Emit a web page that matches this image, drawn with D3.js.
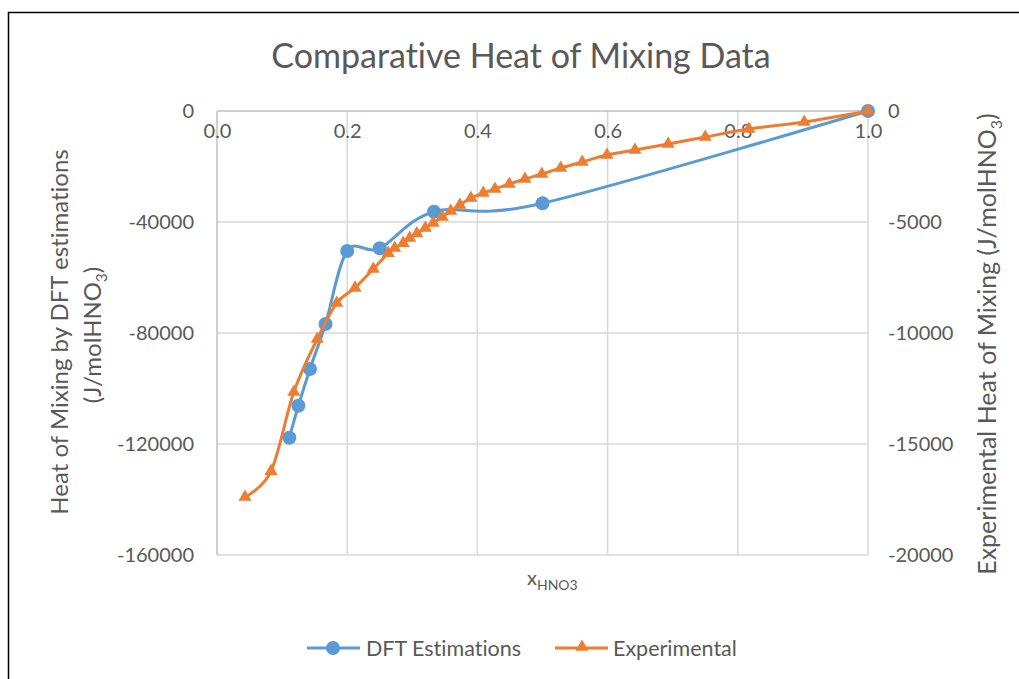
<!DOCTYPE html>
<html>
<head>
<meta charset="utf-8">
<script src="https://cdn.jsdelivr.net/npm/d3@7"></script>
<style>
  html, body { margin: 0; padding: 0; background: #fff; }
  svg { display: block; }
  text { font-family: Lato, "Open Sans", sans-serif; fill: #595959; font-variant-ligatures: none; font-feature-settings: "liga" 0; }
</style>
</head>
<body>
<svg id="chart" width="1019" height="679"></svg>
<script>
// ---- Data ----
const dftX = [1/9, 1/8, 1/7, 1/6, 1/5, 1/4, 1/3, 1/2, 1];
const dftY = [-117730, -106200, -92970, -76760, -50450, -49480, -36290, -33260, 0];

const expX = [0.043, 0.083, 0.118, 0.154, 0.184, 0.212, 0.240, 0.263, 0.273, 0.286, 0.296, 0.307,
              0.320, 0.332, 0.346, 0.359, 0.373, 0.390, 0.409, 0.427, 0.449, 0.473, 0.499, 0.528,
              0.561, 0.599, 0.642, 0.693, 0.750, 0.817, 0.902, 1.0];
const expY = [-17390, -16220, -12660, -10270, -8650, -7970, -7120, -6400, -6170, -5950, -5720, -5520,
              -5270, -5045, -4775, -4505, -4234, -3920, -3694, -3514, -3288, -3063, -2838, -2568,
              -2297, -1982, -1757, -1486, -1171, -811, -495, 0];

const xTicks = [0, 0.2, 0.4, 0.6, 0.8, 1.0];
const leftTicks = [0, -40000, -80000, -120000, -160000];
const rightTicks = [0, -5000, -10000, -15000, -20000];

const title = "Comparative Heat of Mixing Data";
const seriesNames = ["DFT Estimations", "Experimental"];
const colors = ["#5b9bd5", "#ed7d31"];

// ---- Layout ----
const svg = d3.select("#chart");
const plot = { left: 217, right: 868, top: 111, bottom: 555 };

const x = d3.scaleLinear().domain([0, 1]).range([plot.left, plot.right]);
const yL = d3.scaleLinear().domain([-160000, 0]).range([plot.bottom, plot.top]);
const yR = d3.scaleLinear().domain([-20000, 0]).range([plot.bottom, plot.top]);
const intFmt = d => String(d);

// frame
svg.append("rect").attr("x", 8.5).attr("y", 12.5).attr("width", 1040).attr("height", 700)
  .attr("fill", "none").attr("stroke", "#000").attr("stroke-width", 1.5);

// title
svg.append("text").attr("x", 521).attr("y", 68).attr("text-anchor", "middle")
  .style("font-size", "34px").text(title);

// gridlines
const grid = svg.append("g");
grid.selectAll(".hg").data(leftTicks.filter(d => d !== 0)).join("line")
  .attr("x1", plot.left).attr("x2", plot.right)
  .attr("y1", d => yL(d)).attr("y2", d => yL(d))
  .attr("stroke", "#d9d9d9").attr("stroke-width", 1.5);
grid.selectAll(".vg").data(xTicks.filter(d => d !== 0)).join("line")
  .attr("x1", d => x(d)).attr("x2", d => x(d))
  .attr("y1", plot.top).attr("y2", plot.bottom)
  .attr("stroke", "#d9d9d9").attr("stroke-width", 1.5);

// axes lines (x axis at y=0 on top; y axis at x=0)
svg.append("line").attr("x1", plot.left).attr("x2", plot.right)
  .attr("y1", yL(0)).attr("y2", yL(0)).attr("stroke", "#bfbfbf").attr("stroke-width", 1.5);
svg.append("line").attr("x1", x(0)).attr("x2", x(0))
  .attr("y1", plot.top).attr("y2", plot.bottom).attr("stroke", "#bfbfbf").attr("stroke-width", 1.5);

// x tick labels (below the top axis)
const xAxis = d3.axisBottom(x).tickValues(xTicks).tickFormat(d3.format(".1f")).tickSize(0).tickPadding(0);
const gx = svg.append("g").attr("transform", `translate(0,${yL(0) + 13})`).call(xAxis);
gx.select(".domain").remove();
gx.selectAll("text").style("font-size", "20px").attr("fill", "#595959").attr("font-family", null);

// left axis labels
const leftAxis = d3.axisLeft(yL).tickValues(leftTicks).tickFormat(intFmt).tickSize(0).tickPadding(0);
const gl = svg.append("g").attr("transform", `translate(194,0)`).call(leftAxis);
gl.select(".domain").remove();
gl.selectAll("text").style("font-size", "20px").attr("fill", "#595959").attr("font-family", null);

// right axis labels
const rightAxis = d3.axisRight(yR).tickValues(rightTicks).tickFormat(intFmt).tickSize(0).tickPadding(0);
const gr = svg.append("g").attr("transform", `translate(888,0)`).call(rightAxis);
gr.select(".domain").remove();
gr.selectAll("text").style("font-size", "20px").attr("fill", "#595959").attr("font-family", null);

// left axis title (two lines)
svg.append("text").attr("transform", "translate(68,332) rotate(-90)")
  .attr("text-anchor", "middle").style("font-size", "24px").text("Heat of Mixing by DFT estimations");
const lt2 = svg.append("text").attr("transform", "translate(101,335) rotate(-90)")
  .attr("text-anchor", "middle").style("font-size", "24px");
lt2.append("tspan").text("(J/molHNO");
lt2.append("tspan").attr("dy", 6).style("font-size", "15px").text("3");
lt2.append("tspan").attr("dy", -6).text(")");

// right axis title
const rt = svg.append("text").attr("transform", "translate(996,344) rotate(-90)")
  .attr("text-anchor", "middle").style("font-size", "25px");
rt.append("tspan").text("Experimental Heat of Mixing (J/molHNO");
rt.append("tspan").attr("dy", 6).style("font-size", "16px").text("3");
rt.append("tspan").attr("dy", -6).text(")");

// x axis title
const xt = svg.append("text").attr("x", 527).attr("y", 585).style("font-size", "20px");
xt.append("tspan").text("x");
xt.append("tspan").attr("dy", 5).style("font-size", "14px").text("HNO3");

// ---- Series ----
const line = d3.line().curve(d3.curveCatmullRom.alpha(0));

const dftPts = dftX.map((v, i) => [x(v), yL(dftY[i])]);
const expPts = expX.map((v, i) => [x(v), yR(expY[i])]);

svg.append("path").attr("d", line(dftPts)).attr("fill", "none")
  .attr("stroke", colors[0]).attr("stroke-width", 3).attr("stroke-linejoin", "round");
svg.append("g").selectAll("circle").data(dftPts).join("circle")
  .attr("cx", d => d[0]).attr("cy", d => d[1]).attr("r", 7).attr("fill", colors[0]);

const tri = d3.symbol().type(d3.symbolTriangle).size(75);
svg.append("path").attr("d", line(expPts)).attr("fill", "none")
  .attr("stroke", colors[1]).attr("stroke-width", 3).attr("stroke-linejoin", "round");
svg.append("g").selectAll("path").data(expPts).join("path")
  .attr("d", tri).attr("transform", d => `translate(${d[0]},${d[1]})`).attr("fill", colors[1]);

// ---- Legend ----
const leg = svg.append("g");
leg.append("line").attr("x1", 307).attr("x2", 360).attr("y1", 648).attr("y2", 648)
  .attr("stroke", colors[0]).attr("stroke-width", 3);
leg.append("circle").attr("cx", 333).attr("cy", 648).attr("r", 7).attr("fill", colors[0]);
leg.append("text").attr("x", 366).attr("y", 656).style("font-size", "21.5px").text(seriesNames[0]);
leg.append("line").attr("x1", 555).attr("x2", 608).attr("y1", 648).attr("y2", 648)
  .attr("stroke", colors[1]).attr("stroke-width", 3);
leg.append("path").attr("d", tri).attr("transform", "translate(582,647)").attr("fill", colors[1]);
leg.append("text").attr("x", 613).attr("y", 656).style("font-size", "21.5px").text(seriesNames[1]);
</script>
</body>
</html>
